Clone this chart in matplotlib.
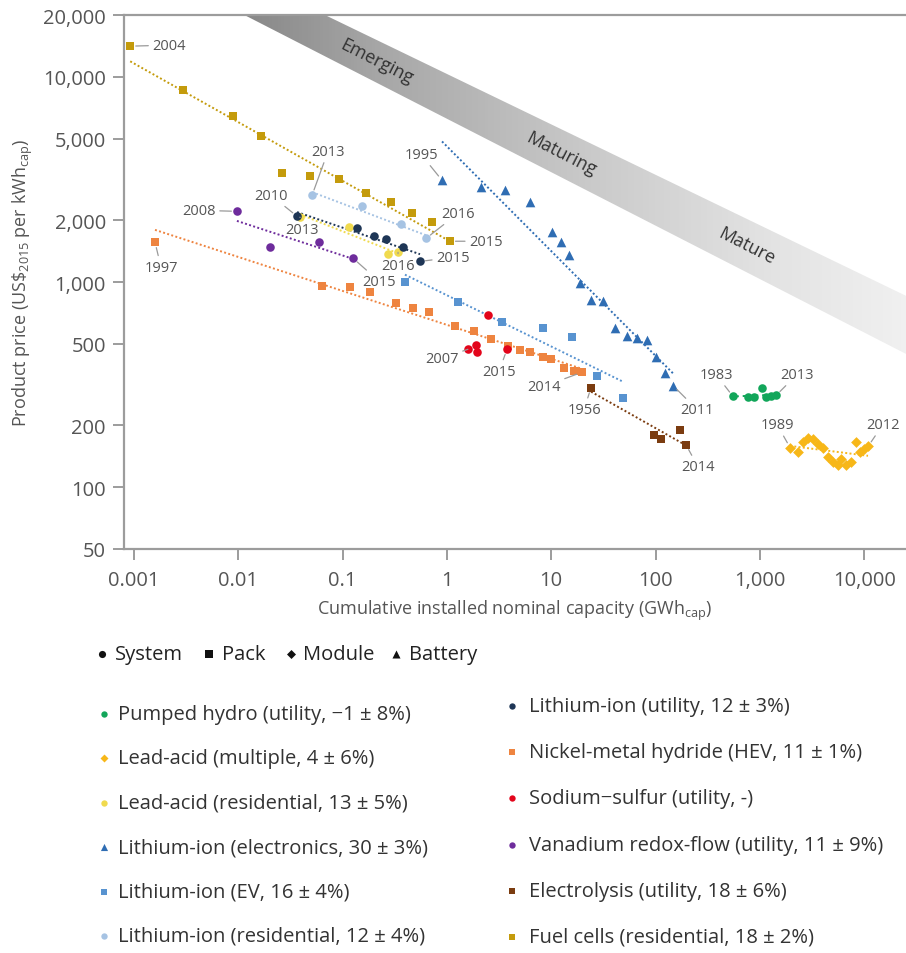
import numpy as np
import matplotlib.pyplot as plt
from matplotlib.colors import LinearSegmentedColormap
from matplotlib.ticker import FixedLocator, FixedFormatter, NullLocator

plt.rcParams['font.family'] = ['Open Sans', 'DejaVu Sans']
plt.rcParams['mathtext.fontset'] = 'custom'
plt.rcParams['mathtext.rm'] = 'Open Sans'
plt.rcParams['mathtext.it'] = 'Open Sans:italic'

# cumulative installed capacity (GWh) and product price (US$2015 per kWh)
hydro_x = [553, 771, 880, 1050, 1148, 1280, 1430]
hydro_y = [277, 274, 274, 306, 274, 277, 280]

la_multi_x = [1950, 2320, 2600, 2900, 3240, 3610, 4040, 4510, 5030, 5620,
              6010, 6700, 7480, 8360, 9140, 9980, 10900]
la_multi_y = [156, 149, 167, 173, 171, 162, 155, 141, 133, 128,
              137, 128, 133, 167, 148, 153, 158]

la_res_x = [0.039, 0.115, 0.272, 0.340]
la_res_y = [2070, 1850, 1365, 1395]

li_el_x = [0.898, 2.12, 3.61, 6.27, 10.2, 12.4, 14.8, 18.9, 24.1, 31.4,
           40.9, 53.3, 66.5, 82.8, 101, 123, 147]
li_el_y = [3130, 2900, 2800, 2450, 1750, 1563, 1350, 986, 815, 805,
           594, 543, 531, 520, 429, 359, 313]

li_ev_x = [0.396, 1.28, 3.37, 8.34, 15.8, 27.5, 48.8]
li_ev_y = [998, 796, 636, 594, 537, 347, 271]

li_res_x = [0.051, 0.153, 0.363, 0.63]
li_res_y = [2650, 2340, 1910, 1630]

li_util_x = [0.0366, 0.137, 0.200, 0.261, 0.379, 0.552]
li_util_y = [2090, 1830, 1670, 1620, 1480, 1260]

nimh_x = [0.00159, 0.0636, 0.118, 0.183, 0.325, 0.473, 0.673, 1.20, 1.82,
          2.65, 3.85, 5.02, 6.27, 8.34, 9.95, 13.3, 16.6, 19.7]
nimh_y = [1563, 953, 942, 891, 787, 744, 711, 608, 575,
          526, 486, 464, 454, 429, 420, 379, 367, 363]

nas_x = [1.59, 1.90, 1.94, 2.48, 3.77]
nas_y = [470, 491, 454, 688, 470]

vrf_x = [0.0097, 0.0201, 0.0594, 0.126]
vrf_y = [2210, 1476, 1560, 1305]

elec_x = [24.1, 96.8, 113, 172, 196]
elec_y = [306, 179, 171, 189, 161]

fuel_x = [0.00092, 0.00295, 0.0089, 0.0165, 0.0262, 0.0486, 0.0925, 0.168,
          0.291, 0.462, 0.72, 1.07]
fuel_y = [14100, 8610, 6430, 5140, 3390, 3280, 3170, 2710,
          2450, 2160, 1950, 1580]

x_ticks = [0.001, 0.01, 0.1, 1, 10, 100, 1000, 10000]
x_tick_labels = ['0.001', '0.01', '0.1', '1', '10', '100', '1,000', '10,000']
y_ticks = [50, 100, 200, 500, 1000, 2000, 5000, 10000, 20000]
y_tick_labels = ['50', '100', '200', '500', '1,000', '2,000', '5,000', '10,000', '20,000']

# (label, x, y, colour, marker, fit line, first year, last year, label offsets in px)
series = [
    ('Pumped hydro (utility, \u22121 \u00b1 8%)', hydro_x, hydro_y, '#12a65a', 'o', 'dash',
     '1983', '2013', (-17, 22), (21, 21)),
    ('Lead-acid (multiple, 4 \u00b1 6%)', la_multi_x, la_multi_y, '#f7b718', 'D', 'dot',
     '1989', '2012', (-13, 23), (15, 22)),
    ('Lead-acid (residential, 13 \u00b1 5%)', la_res_x, la_res_y, '#f0da4e', 'o', 'dot',
     '2013', '2016', (2, -12), (0, -13)),
    ('Lithium-ion (electronics, 30 \u00b1 3%)', li_el_x, li_el_y, '#2f6db3', '^', 'dot',
     '1995', '2011', (-21, 26), (24, -24)),
    ('Lithium-ion (EV, 16 \u00b1 4%)', li_ev_x, li_ev_y, '#5893d0', 's', 'dot',
     None, None, None, None),
    ('Lithium-ion (residential, 12 \u00b1 4%)', li_res_x, li_res_y, '#a6c3e3', 'o', 'dot',
     '2013', '2016', (16, 44), (32, 25)),
    ('Lithium-ion (utility, 12 \u00b1 3%)', li_util_x, li_util_y, '#1e3656', 'o', 'dot',
     '2010', '2015', (-26, 21), (33, 4)),
    ('Nickel-metal hydride (HEV, 11 \u00b1 1%)', nimh_x, nimh_y, '#ee8440', 's', 'dot',
     '1997', '2014', (6, -25), (-38, -14)),
    ('Sodium\u2212sulfur (utility, -)', nas_x, nas_y, '#e3051b', 'o', None,
     '2007', '2015', (-26, -9), (-8, -22)),
    ('Vanadium redox-flow (utility, 11 \u00b1 9%)', vrf_x, vrf_y, '#6e2c9c', 'o', 'dot',
     '2008', '2015', (-38, 1), (26, -23)),
    ('Electrolysis (utility, 18 \u00b1 6%)', elec_x, elec_y, '#7b3c10', 's', 'dot',
     '1956', '2014', (-7, -22), (12, -22)),
    ('Fuel cells (residential, 18 \u00b1 2%)', fuel_x, fuel_y, '#c49b0c', 's', 'dot',
     '2004', '2015', (39, 1), (36, 0)),
]

marker_size = {'o': 38, 's': 40, 'D': 30, '^': 48}

fig = plt.figure(figsize=(9.06, 9.54), dpi=100)
ax = fig.add_axes([124 / 906, 404 / 954, 1 - 124 / 906, 534 / 954])
ax.set_xscale('log')
ax.set_yscale('log')
ax.set_xlim(0.000802, 25200)
ax.set_ylim(50, 20000)


def band_centre(x):
    return 11930 * (x / 0.209) ** -0.253


# maturity band: experience curve that widens slightly, shaded dark to light
band_x = np.logspace(np.log10(0.0008), np.log10(26000), 60)
band_h = 10 ** (0.0976 + 0.00735 * np.log10(band_x / 0.0268))
poly = ax.fill_between(band_x, band_centre(band_x) / band_h,
                       band_centre(band_x) * band_h, color='none', lw=0)
grad = np.linspace(0, 1, 256).reshape(1, -1)
cmap = LinearSegmentedColormap.from_list('band', [
    (0.0, '#707070'), (0.165, '#8a8a8a'), (0.32, '#a6a6a6'),
    (0.59, '#c9c9c9'), (0.83, '#e3e3e3'), (1.0, '#f0f0f0')])
im = ax.imshow(grad, extent=(0, 1, 0, 1), transform=ax.transAxes, aspect='auto',
               cmap=cmap, zorder=0.5, interpolation='bilinear')
im.set_clip_path(poly.get_paths()[0], transform=ax.transData)

for txt, bx in [('Emerging', 0.21), ('Maturing', 12.5), ('Mature', 750)]:
    ax.text(bx, band_centre(bx), txt, rotation=-27,
            rotation_mode='anchor', ha='center', va='center', fontsize=13,
            color='#333333', zorder=1)

for (name, xs, ys, col, mk, fit, y0, y1, off0, off1) in series:
    xs = np.array(xs, dtype=float)
    ys = np.array(ys, dtype=float)
    if fit is not None:
        b, a = np.polyfit(np.log10(xs), np.log10(ys), 1)
        fx = np.array([xs.min(), xs.max()])
        fy = 10 ** (a + b * np.log10(fx))
        ls = (0, (3, 2)) if fit == 'dash' else (0, (1, 1.2))
        ax.plot(fx, fy, ls=ls, color=col, lw=1.4, zorder=2)
    ax.scatter(xs, ys, s=marker_size[mk], marker=mk, color=col, lw=0, zorder=3)
    for yr, idx, off in [(y0, 0, off0), (y1, -1, off1)]:
        if yr is None:
            continue
        ax.annotate(yr, xy=(xs[idx], ys[idx]), xytext=off, textcoords='offset pixels',
                    ha='center', va='center', fontsize=10.5, color='#555555', zorder=4,
                    arrowprops=dict(arrowstyle='-', color='#9a9a9a', lw=0.9,
                                    shrinkA=1, shrinkB=4))

for side in ['left', 'bottom', 'top']:
    ax.spines[side].set_color('#9c9c9c')
    ax.spines[side].set_linewidth(1.6)
ax.spines['right'].set_visible(False)
ax.xaxis.set_major_locator(FixedLocator(x_ticks))
ax.xaxis.set_major_formatter(FixedFormatter(x_tick_labels))
ax.yaxis.set_major_locator(FixedLocator(y_ticks))
ax.yaxis.set_major_formatter(FixedFormatter(y_tick_labels))
ax.xaxis.set_minor_locator(NullLocator())
ax.yaxis.set_minor_locator(NullLocator())
ax.tick_params(axis='both', length=8, width=1.4, color='#9c9c9c', labelsize=14.5,
               labelcolor='#555555')
ax.tick_params(axis='x', pad=7)
ax.tick_params(axis='y', pad=5)

ax.set_xlabel('Cumulative installed nominal capacity (GWh$_{\\mathrm{cap}}$)',
              fontsize=13, color='#555555', labelpad=6)
ax.set_ylabel('Product price (US\\$$_{\\mathrm{2015}}$ per kWh$_{\\mathrm{cap}}$)',
              fontsize=13, color='#555555', labelpad=6)

# legends drawn in a pixel-space overlay
lax = fig.add_axes([0, 0, 1, 1], zorder=-1)
lax.set_xlim(0, 906)
lax.set_ylim(954, 0)
lax.axis('off')

shapes = [('o', 'System', 102, 115), ('s', 'Pack', 209, 222),
          ('D', 'Module', 291, 303), ('^', 'Battery', 396, 409)]
for mk, lab, mx, tx in shapes:
    lax.scatter([mx], [655], marker=mk, s=marker_size[mk] * 0.7, color='#111111', lw=0)
    lax.text(tx, 655, lab, ha='left', va='center', fontsize=14.5, color='#222222')

for i, (name, xs, ys, col, mk, *_rest) in enumerate(series):
    if i < 6:
        mx, tx, ty = 104, 118, 715 + i * 44.4
    else:
        mx, tx, ty = 512, 529, 707 + (i - 6) * 46.2
    lax.scatter([mx], [ty], marker=mk, s=marker_size[mk] * 0.55, color=col, lw=0)
    lax.text(tx, ty, name, ha='left', va='center', fontsize=14.5, color='#333333')

fig.savefig('out.png', dpi=100)
